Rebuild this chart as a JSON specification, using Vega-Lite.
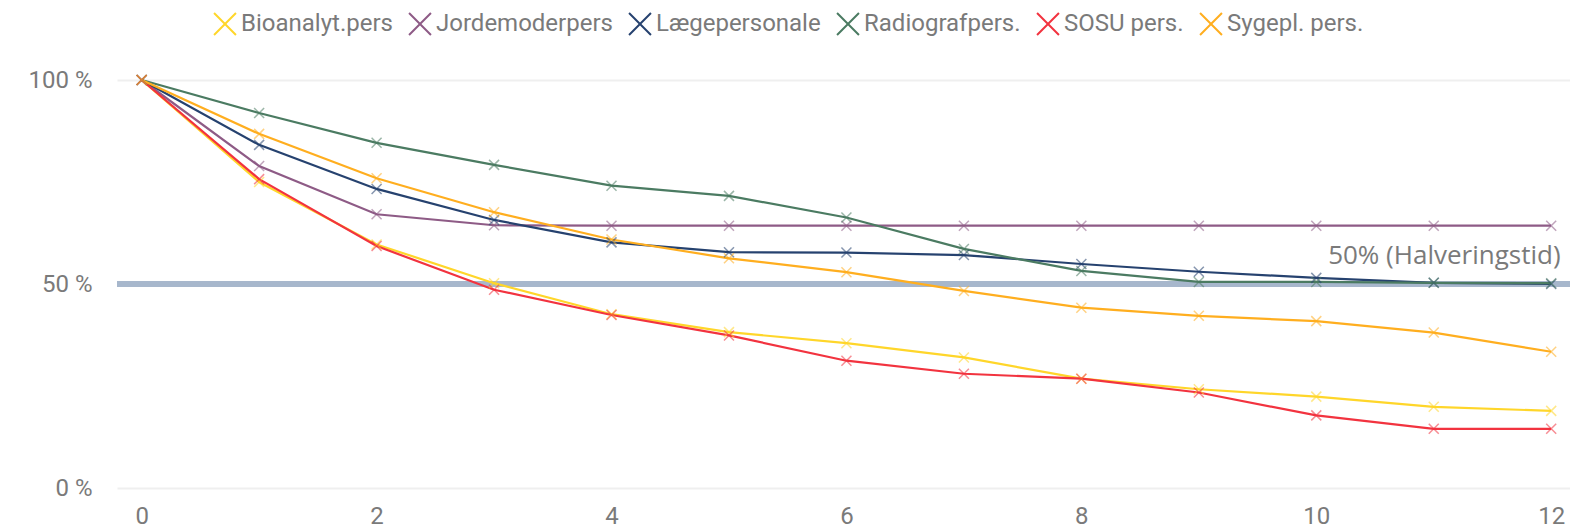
{
  "$schema": "https://vega.github.io/schema/vega-lite/v6.json",
  "width": 1453,
  "height": 408,
  "autosize": {"type": "none"},
  "padding": {"left": 117, "top": 80, "right": 0, "bottom": 42},
  "background": "white",
  "config": {
    "view": {"stroke": null},
    "font": "Roboto",
    "axis": {"labelFont": "Roboto", "labelFontSize": 24, "labelColor": "#7a7a7a", "ticks": false, "domain": false, "title": null}
  },
  "datasets": {
    "series": [
      {"series": "Bioanalyt.pers", "month": 0, "pct": 100},
      {"series": "Bioanalyt.pers", "month": 1, "pct": 75.0},
      {"series": "Bioanalyt.pers", "month": 2, "pct": 59.7},
      {"series": "Bioanalyt.pers", "month": 3, "pct": 50.2},
      {"series": "Bioanalyt.pers", "month": 4, "pct": 42.6},
      {"series": "Bioanalyt.pers", "month": 5, "pct": 38.2},
      {"series": "Bioanalyt.pers", "month": 6, "pct": 35.5},
      {"series": "Bioanalyt.pers", "month": 7, "pct": 32.0},
      {"series": "Bioanalyt.pers", "month": 8, "pct": 26.8},
      {"series": "Bioanalyt.pers", "month": 9, "pct": 24.2},
      {"series": "Bioanalyt.pers", "month": 10, "pct": 22.4},
      {"series": "Bioanalyt.pers", "month": 11, "pct": 19.9},
      {"series": "Bioanalyt.pers", "month": 12, "pct": 18.9},
      {"series": "Jordemoderpers", "month": 0, "pct": 100},
      {"series": "Jordemoderpers", "month": 1, "pct": 78.9},
      {"series": "Jordemoderpers", "month": 2, "pct": 67.1},
      {"series": "Jordemoderpers", "month": 3, "pct": 64.4},
      {"series": "Jordemoderpers", "month": 4, "pct": 64.3},
      {"series": "Jordemoderpers", "month": 5, "pct": 64.3},
      {"series": "Jordemoderpers", "month": 6, "pct": 64.3},
      {"series": "Jordemoderpers", "month": 7, "pct": 64.3},
      {"series": "Jordemoderpers", "month": 8, "pct": 64.3},
      {"series": "Jordemoderpers", "month": 9, "pct": 64.3},
      {"series": "Jordemoderpers", "month": 10, "pct": 64.3},
      {"series": "Jordemoderpers", "month": 11, "pct": 64.3},
      {"series": "Jordemoderpers", "month": 12, "pct": 64.3},
      {"series": "Lægepersonale", "month": 0, "pct": 100},
      {"series": "Lægepersonale", "month": 1, "pct": 84.1},
      {"series": "Lægepersonale", "month": 2, "pct": 73.3},
      {"series": "Lægepersonale", "month": 3, "pct": 65.7},
      {"series": "Lægepersonale", "month": 4, "pct": 60.2},
      {"series": "Lægepersonale", "month": 5, "pct": 57.8},
      {"series": "Lægepersonale", "month": 6, "pct": 57.7},
      {"series": "Lægepersonale", "month": 7, "pct": 57.1},
      {"series": "Lægepersonale", "month": 8, "pct": 54.9},
      {"series": "Lægepersonale", "month": 9, "pct": 53.0},
      {"series": "Lægepersonale", "month": 10, "pct": 51.5},
      {"series": "Lægepersonale", "month": 11, "pct": 50.3},
      {"series": "Lægepersonale", "month": 12, "pct": 50.0},
      {"series": "Radiografpers.", "month": 0, "pct": 100},
      {"series": "Radiografpers.", "month": 1, "pct": 91.9},
      {"series": "Radiografpers.", "month": 2, "pct": 84.6},
      {"series": "Radiografpers.", "month": 3, "pct": 79.2},
      {"series": "Radiografpers.", "month": 4, "pct": 74.1},
      {"series": "Radiografpers.", "month": 5, "pct": 71.6},
      {"series": "Radiografpers.", "month": 6, "pct": 66.3},
      {"series": "Radiografpers.", "month": 7, "pct": 58.6},
      {"series": "Radiografpers.", "month": 8, "pct": 53.2},
      {"series": "Radiografpers.", "month": 9, "pct": 50.5},
      {"series": "Radiografpers.", "month": 10, "pct": 50.5},
      {"series": "Radiografpers.", "month": 11, "pct": 50.3},
      {"series": "Radiografpers.", "month": 12, "pct": 50.2},
      {"series": "SOSU pers.", "month": 0, "pct": 100},
      {"series": "SOSU pers.", "month": 1, "pct": 75.7},
      {"series": "SOSU pers.", "month": 2, "pct": 59.3},
      {"series": "SOSU pers.", "month": 3, "pct": 48.6},
      {"series": "SOSU pers.", "month": 4, "pct": 42.4},
      {"series": "SOSU pers.", "month": 5, "pct": 37.4},
      {"series": "SOSU pers.", "month": 6, "pct": 31.2},
      {"series": "SOSU pers.", "month": 7, "pct": 28.0},
      {"series": "SOSU pers.", "month": 8, "pct": 26.8},
      {"series": "SOSU pers.", "month": 9, "pct": 23.4},
      {"series": "SOSU pers.", "month": 10, "pct": 17.8},
      {"series": "SOSU pers.", "month": 11, "pct": 14.5},
      {"series": "SOSU pers.", "month": 12, "pct": 14.5},
      {"series": "Sygepl. pers.", "month": 0, "pct": 100},
      {"series": "Sygepl. pers.", "month": 1, "pct": 86.8},
      {"series": "Sygepl. pers.", "month": 2, "pct": 75.9},
      {"series": "Sygepl. pers.", "month": 3, "pct": 67.6},
      {"series": "Sygepl. pers.", "month": 4, "pct": 60.9},
      {"series": "Sygepl. pers.", "month": 5, "pct": 56.3},
      {"series": "Sygepl. pers.", "month": 6, "pct": 52.9},
      {"series": "Sygepl. pers.", "month": 7, "pct": 48.3},
      {"series": "Sygepl. pers.", "month": 8, "pct": 44.2},
      {"series": "Sygepl. pers.", "month": 9, "pct": 42.2},
      {"series": "Sygepl. pers.", "month": 10, "pct": 40.9},
      {"series": "Sygepl. pers.", "month": 11, "pct": 38.1},
      {"series": "Sygepl. pers.", "month": 12, "pct": 33.4}
    ],
    "halving": [{"pct": 50, "month": 12.08, "label": "50% (Halveringstid)"}]
  },
  "encoding": {
    "x": {
      "field": "month", "type": "quantitative",
      "scale": {"domain": [-0.21, 12.16], "nice": false, "zero": false},
      "axis": {"values": [0, 2, 4, 6, 8, 10, 12], "grid": false, "labelPadding": 16, "labelFlush": false}
    },
    "y": {
      "field": "pct", "type": "quantitative",
      "scale": {"domain": [0, 100], "nice": false},
      "axis": {"values": [0, 50, 100], "grid": true, "gridColor": "#efefef", "gridWidth": 2, "labelPadding": 25, "labelExpr": "datum.value + ' %'"}
    }
  },
  "layer": [
    {
      "data": {"name": "halving"},
      "mark": {"type": "rule", "color": "#a7b7cc", "strokeWidth": 6},
      "encoding": {"x": null}
    },
    {
      "data": {"name": "halving"},
      "mark": {"type": "text", "align": "right", "baseline": "alphabetic", "dy": -20, "font": "Open Sans", "fontSize": 26, "color": "#7a7a7a"},
      "encoding": {"text": {"field": "label"}}
    },
    {
      "data": {"name": "series"},
      "mark": {"type": "line", "strokeWidth": 2.2},
      "encoding": {
        "color": {
          "field": "series", "type": "nominal",
          "scale": {"domain": ["Bioanalyt.pers", "Jordemoderpers", "Lægepersonale", "Radiografpers.", "SOSU pers.", "Sygepl. pers."],
                    "range": ["#FFD62A", "#8E5B86", "#26426F", "#4B7B62", "#F2333F", "#FFAE1F"]},
          "legend": {
            "title": null, "orient": "none", "direction": "horizontal", "legendX": 96, "legendY": -68,
            "symbolType": "M-1,-1L1,1M-1,1L1,-1", "symbolSize": 480, "symbolStrokeWidth": 2, "symbolOpacity": 1,
            "labelFont": "Roboto", "labelFontSize": 24, "labelColor": "#7a7a7a", "labelOffset": 4, "labelLimit": 400, "columnPadding": 12, "padding": 0
          }
        },
        "order": {"field": "month"}
      }
    },
    {
      "data": {"name": "series"},
      "mark": {"type": "point", "shape": "M-1,-1L1,1M-1,1L1,-1", "size": 100, "filled": false, "strokeWidth": 1.5, "opacity": 0.55},
      "encoding": {
        "color": {"field": "series", "type": "nominal", "legend": null}
      }
    }
  ]
}
